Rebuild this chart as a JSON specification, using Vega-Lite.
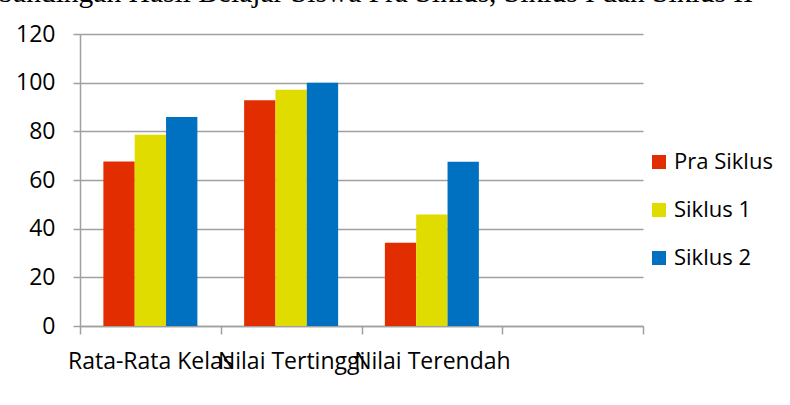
{
  "$schema": "https://vega.github.io/schema/vega-lite/v6.json",
  "autosize": {"type": "none"},
  "padding": {"left": 80, "top": 34, "right": 147, "bottom": 79},
  "width": 563,
  "height": 292,
  "background": "white",
  "title": {
    "text": "Perbandingan Hasil Belajar Siswa Pra Siklus, Siklus I dan Siklus II",
    "anchor": "start",
    "frame": "group",
    "font": "Liberation Serif",
    "fontSize": 29.5,
    "fontWeight": "normal",
    "color": "black",
    "baseline": "alphabetic",
    "offset": 0,
    "dx": -121,
    "dy": 8
  },
  "data": {
    "values": [
      {"kategori": "Rata-Rata Kelas", "siklus": "Pra Siklus", "nilai": 67.6},
      {"kategori": "Rata-Rata Kelas", "siklus": "Siklus 1", "nilai": 78.6},
      {"kategori": "Rata-Rata Kelas", "siklus": "Siklus 2", "nilai": 85.9},
      {"kategori": "Nilai Tertinggi", "siklus": "Pra Siklus", "nilai": 92.8},
      {"kategori": "Nilai Tertinggi", "siklus": "Siklus 1", "nilai": 97.1},
      {"kategori": "Nilai Tertinggi", "siklus": "Siklus 2", "nilai": 100},
      {"kategori": "Nilai Terendah", "siklus": "Pra Siklus", "nilai": 34.2},
      {"kategori": "Nilai Terendah", "siklus": "Siklus 1", "nilai": 45.8},
      {"kategori": "Nilai Terendah", "siklus": "Siklus 2", "nilai": 67.5}
    ]
  },
  "mark": {"type": "bar"},
  "encoding": {
    "x": {
      "field": "kategori",
      "type": "nominal",
      "sort": null,
      "title": null,
      "scale": {"domain": ["Rata-Rata Kelas", "Nilai Tertinggi", "Nilai Terendah", " "], "paddingInner": 0, "paddingOuter": 0},
      "axis": {
        "tickBand": "extent",
        "labelAngle": 0,
        "labelFont": "Open Sans",
        "labelFontSize": 23,
        "labelColor": "black",
        "labelPadding": 16,
        "labelOverlap": false,
        "labelBound": false,
        "labelLimit": 0,
        "domainColor": "#A0A0A0",
        "domainWidth": 1.5,
        "tickColor": "#A0A0A0",
        "tickWidth": 1.5,
        "tickSize": 8,
        "grid": false
      }
    },
    "xOffset": {
      "field": "siklus",
      "type": "nominal",
      "sort": ["Pra Siklus", "Siklus 1", "Siklus 2"],
      "scale": {"paddingInner": 0, "paddingOuter": 0.746}
    },
    "y": {
      "field": "nilai",
      "type": "quantitative",
      "title": null,
      "scale": {"domain": [0, 120], "nice": false},
      "axis": {
        "values": [0, 20, 40, 60, 80, 100, 120],
        "grid": true,
        "gridColor": "#A0A0A0",
        "gridWidth": 1.5,
        "domainColor": "#A0A0A0",
        "domainWidth": 1.5,
        "tickColor": "#A0A0A0",
        "tickWidth": 1.5,
        "tickSize": 7,
        "labelFont": "Open Sans",
        "labelFontSize": 23,
        "labelColor": "black",
        "labelPadding": 18
      }
    },
    "color": {
      "field": "siklus",
      "type": "nominal",
      "sort": ["Pra Siklus", "Siklus 1", "Siklus 2"],
      "scale": {"domain": ["Pra Siklus", "Siklus 1", "Siklus 2"], "range": ["#E22D00", "#E0DC00", "#0070C0"]},
      "legend": {
        "title": null,
        "orient": "none",
        "legendX": 568,
        "legendY": 117,
        "padding": 0,
        "symbolType": "square",
        "symbolSize": 196,
        "symbolStrokeWidth": 0,
        "labelFont": "Open Sans",
        "labelFontSize": 22,
        "labelColor": "black",
        "labelOffset": 4,
        "rowPadding": 26
      }
    }
  },
  "config": {"view": {"stroke": null}}
}
